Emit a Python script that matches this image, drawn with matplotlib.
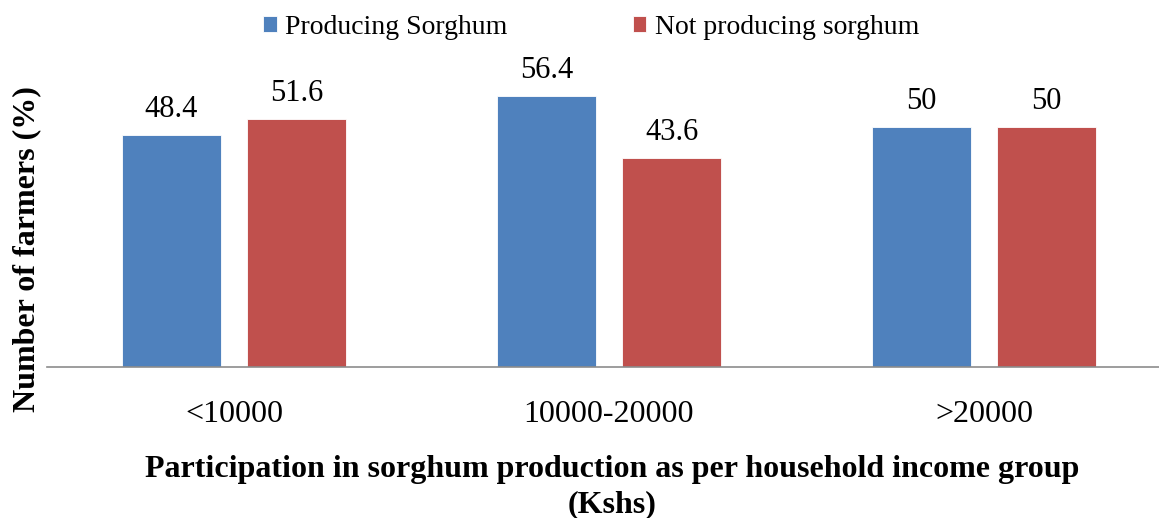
import matplotlib.pyplot as plt
import numpy as np

plt.rcParams['font.family'] = ['Liberation Serif', 'DejaVu Serif']

# data
groups = ["<10000", "10000-20000", ">20000"]
producing = [48.4, 56.4, 50]
not_producing = [51.6, 43.6, 50]
series_names = ["Producing Sorghum", "Not producing sorghum"]
value_labels_prod = ["48.4", "56.4", "50"]
value_labels_not = ["51.6", "43.6", "50"]

blue = "#4F81BD"
red = "#C0504D"

fig = plt.figure(figsize=(11.59, 5.18), dpi=100)
# axes extends past the right edge, like the cropped original
ax = fig.add_axes([46.5 / 1159, 151.5 / 518, 1125 / 1159, 287.4 / 518])

x = np.arange(len(groups))
w = 0.264
off = 0.1667
b1 = ax.bar(x - off, producing, w, color=blue, label=series_names[0],
            edgecolor="white", linewidth=0.6)
b2 = ax.bar(x + off, not_producing, w, color=red, label=series_names[1],
            edgecolor="white", linewidth=0.6)

ax.bar_label(b1, labels=value_labels_prod, padding=8, fontsize=22)
ax.bar_label(b2, labels=value_labels_not, padding=8, fontsize=22)

ax.set_xlim(-0.5, 2.5)
ax.set_ylim(0, 60)
ax.set_xticks(x)
ax.set_xticklabels(groups, fontsize=23)
ax.tick_params(axis='x', length=0, pad=24)
ax.set_yticks([])
for s in ["top", "right", "left"]:
    ax.spines[s].set_visible(False)
ax.spines["bottom"].set_color("#8c8c8c")
ax.spines["bottom"].set_linewidth(1.2)

fig.text(27 / 1159, 1 - 249 / 518, "Number of farmers (%)", rotation=90,
         fontsize=23, fontweight="bold", ha="center", va="center")
fig.text(612 / 1159, 1 - 487 / 518,
         "Participation in sorghum production as per household income group\n(Kshs)",
         fontsize=23, fontweight="bold", ha="center", va="center",
         linespacing=1.28)

fig.legend(handles=[b1, b2], labels=series_names, loc="center",
           bbox_to_anchor=(591 / 1159, 1 - 27 / 518), ncol=2, frameon=False,
           fontsize=20, handlelength=0.5, handleheight=0.5,
           handletextpad=0.3, columnspacing=4.5)

fig.savefig("out.png", dpi=100)
